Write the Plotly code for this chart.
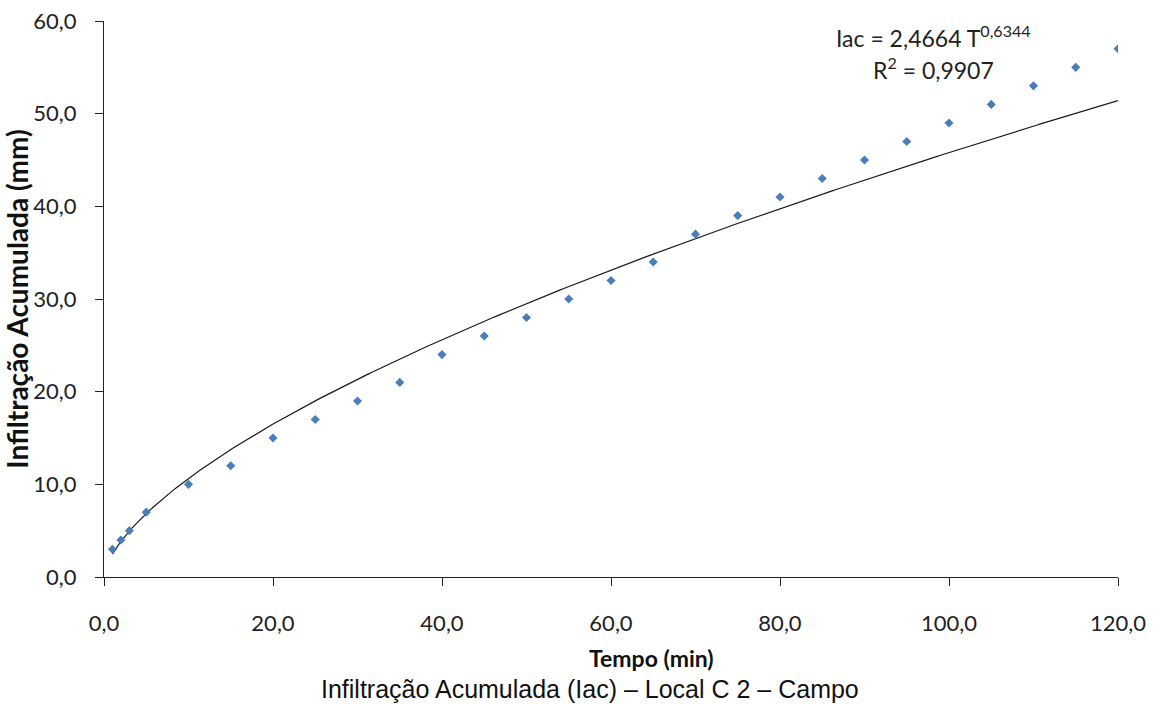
import numpy as np
import plotly.graph_objects as go

tempo = [1, 2, 3, 5, 10, 15, 20, 25, 30, 35, 40, 45, 50, 55, 60, 65, 70, 75,
         80, 85, 90, 95, 100, 105, 110, 115, 120]
iac = [3, 4, 5, 7, 10, 12, 15, 17, 19, 21, 24, 26, 28, 30, 32, 34, 37, 39,
       41, 43, 45, 47, 49, 51, 53, 55, 57]

coef_a = 2.4664
coef_b = 0.6344
r2 = 0.9907

x_ticks = [0, 20, 40, 60, 80, 100, 120]
y_ticks = [0, 10, 20, 30, 40, 50, 60]

t_fit = np.linspace(min(tempo), max(tempo), 300)
y_fit = coef_a * t_fit ** coef_b

fig = go.Figure()
fig.add_trace(go.Scatter(x=t_fit, y=y_fit, mode="lines",
                         line=dict(color="#1a1a1a", width=1.2),
                         showlegend=False, hoverinfo="skip"))
fig.add_trace(go.Scatter(x=tempo, y=iac, mode="markers",
                         marker=dict(symbol="diamond", size=7, color="#4a7ebb"),
                         showlegend=False))

FONT = "Lato, Open Sans, sans-serif"
tick_font = dict(family=FONT, size=22, color="#222")

fig.update_layout(
    width=1161, height=711,
    margin=dict(l=104, r=43, t=21, b=134),
    plot_bgcolor="white", paper_bgcolor="white",
    separators=",.",
    xaxis=dict(range=[0, 120], tickvals=x_ticks, tickformat=".1f",
               automargin=False,
               showgrid=False, zeroline=False, showline=True,
               linecolor="#222", linewidth=1.2, ticks="outside",
               ticklen=8, tickcolor="#222", tickfont=tick_font,
               ticklabelstandoff=18),
    yaxis=dict(range=[0, 60], tickvals=y_ticks, tickformat=".1f",
               automargin=False,
               showgrid=False, zeroline=False, showline=True,
               linecolor="#222", linewidth=1.2, ticks="outside",
               ticklen=8, tickcolor="#222", tickfont=tick_font,
               ticklabelstandoff=14,
               title=dict(text="<b>Infiltração Acumulada (mm)</b>",
                          font=dict(family=FONT, size=28, color="#111"),
                          standoff=2)),
    annotations=[
        dict(x=0.5404, y=-0.1457, xref="paper", yref="paper", showarrow=False,
             xanchor="center", yanchor="middle",
             text="<b>Tempo (min)</b>",
             font=dict(family=FONT, size=23, color="#111")),
        dict(x=0.8176, y=0.972, xref="paper", yref="paper", showarrow=False,
             xanchor="center", yanchor="middle",
             text="Iac = 2,4664 T<sup>0,6344</sup>",
             font=dict(family=FONT, size=23, color="#222")),
        dict(x=0.8176, y=0.915, xref="paper", yref="paper", showarrow=False,
             xanchor="center", yanchor="middle",
             text="R<sup>2</sup> = 0,9907",
             font=dict(family=FONT, size=23, color="#222")),
        dict(x=0.479, y=-0.2014, xref="paper", yref="paper", showarrow=False,
             xanchor="center", yanchor="middle",
             text="Infiltração Acumulada (Iac) – Local C 2 – Campo",
             font=dict(family="Liberation Sans, Arial, sans-serif", size=25, color="#111")),
    ],
)

fig.write_html("out.html")
